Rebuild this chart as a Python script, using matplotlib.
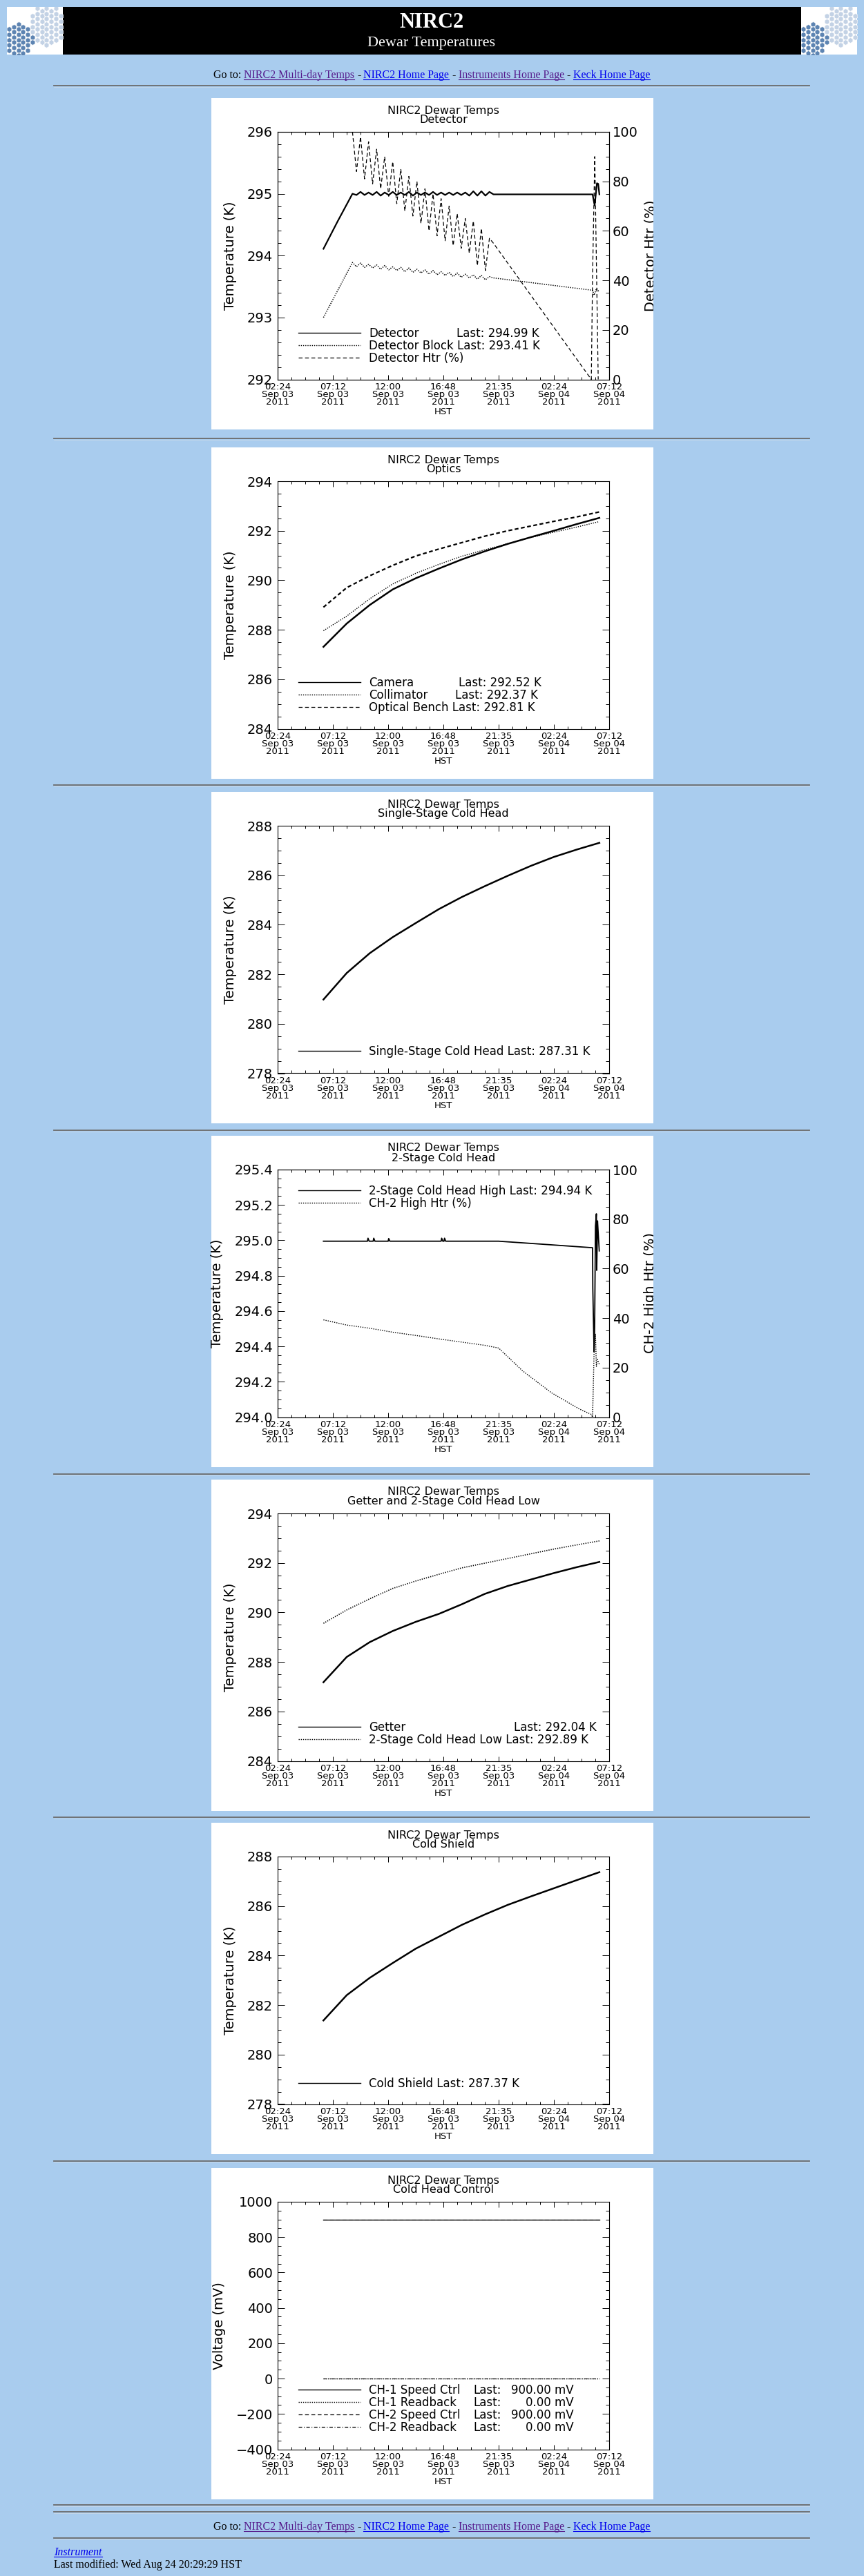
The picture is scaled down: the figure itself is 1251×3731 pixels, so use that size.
import matplotlib
matplotlib.use('Agg')
import matplotlib.pyplot as plt
from matplotlib.patches import Rectangle
from matplotlib.lines import Line2D
from matplotlib.ticker import MultipleLocator, FixedLocator, FormatStrFormatter
from matplotlib.transforms import Bbox, TransformedBbox

plt.rcParams['font.family'] = ['DejaVu Sans']
plt.rcParams['lines.scale_dashes'] = False

# ---------------- data (time axis in hours after 02:24 HST, Sep 03 2011) ----------------
xtick_hours = [0, 4.8, 9.6, 14.4, 19.2, 24.0, 28.8]
xtick_labels = ['02:24\nSep 03\n2011', '07:12\nSep 03\n2011', '12:00\nSep 03\n2011',
                '16:48\nSep 03\n2011', '21:35\nSep 03\n2011', '02:24\nSep 04\n2011',
                '07:12\nSep 04\n2011']

# common sample times for the smooth warm-up curves
hours = [3.98, 6, 8, 10, 12, 14, 16, 18, 20, 22, 24, 26, 27.95]

# detector panel
osc_hours = [6.50, 6.85, 7.20, 7.55, 7.90, 8.25, 8.60, 8.95, 9.30, 9.65, 10.00, 10.35,
             10.70, 11.05, 11.40, 11.75, 12.10, 12.45, 12.80, 13.15, 13.50, 13.85, 14.20, 14.55,
             14.90, 15.25, 15.60, 15.95, 16.30, 16.65, 17.00, 17.35, 17.70, 18.05, 18.40, 18.75]
detector_osc = [295.00, 294.98, 295.03, 294.98, 295.02, 294.98, 295.03, 294.97, 295.02, 294.98,
                295.03, 294.98, 295.02, 294.98, 295.03, 294.97, 295.02, 294.98, 295.02, 294.98,
                295.03, 294.98, 295.02, 294.98, 295.02, 294.98, 295.02, 294.98, 295.02, 294.97,
                295.04, 294.97, 295.04, 294.97, 295.03, 294.99]
block_osc = [293.89, 293.82, 293.88, 293.81, 293.86, 293.80, 293.85, 293.78, 293.84, 293.77,
             293.82, 293.76, 293.81, 293.74, 293.80, 293.73, 293.78, 293.72, 293.77, 293.70,
             293.76, 293.69, 293.74, 293.68, 293.73, 293.66, 293.72, 293.65, 293.70, 293.64,
             293.69, 293.62, 293.68, 293.61, 293.66, 293.64]
htr_osc = [100, 84, 98, 81, 96, 79, 93, 77, 90, 74, 88, 71, 85, 68, 82, 66, 80, 63, 77, 60,
           75, 58, 73, 56, 70, 54, 67, 53, 65, 51, 64, 46, 61, 44, 57, 55]

detector_hours = [3.98, 5.2] + osc_hours + [27.36, 27.54, 27.74, 27.85, 27.95]
detector_temp = [294.11, 294.55] + detector_osc + [294.99, 294.81, 295.17, 295.16, 294.99]
block_hours = [3.98] + osc_hours + [27.36, 27.5, 27.7, 27.95]
block_temp = [293.00] + block_osc + [293.44, 293.36, 293.47, 293.41]
htr_hours = osc_hours + [27.25, 27.36, 27.55, 27.85]
htr_pct = htr_osc + [0, 42, 90, 0]

# optics panel
camera = [287.31, 288.25, 289.00, 289.63, 290.08, 290.47, 290.84, 291.17, 291.47, 291.74, 292.00, 292.27, 292.52]
collimator = [287.96, 288.55, 289.25, 289.85, 290.28, 290.64, 290.97, 291.23, 291.48, 291.73, 291.94, 292.15, 292.37]
optical_bench = [288.91, 289.70, 290.18, 290.60, 290.98, 291.26, 291.52, 291.78, 292.00, 292.19, 292.38, 292.56, 292.76]

# single-stage cold head
single_stage = [280.98, 282.05, 282.85, 283.50, 284.07, 284.63, 285.12, 285.56, 285.98, 286.38, 286.74, 287.04, 287.31]

# 2-stage cold head high + heater
ch2_high_hours = [3.98, 7.80, 7.85, 7.95, 8.30, 8.35, 8.45, 9.60, 9.65, 9.75, 14.20, 14.25, 14.35,
                  14.45, 14.50, 14.60, 19.20, 23.00, 27.36, 27.38, 27.49, 27.54, 27.61, 27.69,
                  27.72, 27.79, 27.86, 27.94]
ch2_high_temp = [294.995, 294.995, 295.012, 294.995, 294.995, 295.012, 294.995, 294.995, 295.010,
                 294.995, 294.995, 295.012, 294.995, 294.995, 295.012, 294.995, 294.995, 294.978,
                 294.958, 294.73, 294.37, 294.51, 295.08, 295.15, 294.83, 295.11, 295.03, 294.94]
ch2_htr_hours = [3.98, 6, 8, 10, 12, 14, 16, 18, 19.2, 21.3, 23.8, 26.2, 27.24, 27.36, 27.49,
                 27.61, 27.69, 27.79, 27.94]
ch2_htr_pct = [39.3, 37.2, 35.9, 34.3, 33.0, 31.6, 30.3, 29.0, 27.9, 18.6, 9.8, 3.3, 1.1, 0.0,
               26.0, 33.5, 20.5, 23.3, 21.4]

# getter and 2-stage cold head low
getter = [287.18, 288.20, 288.80, 289.25, 289.62, 289.94, 290.33, 290.75, 291.07, 291.33, 291.59, 291.83, 292.04]
ch2_low = [289.56, 290.10, 290.55, 290.97, 291.27, 291.54, 291.80, 291.99, 292.18, 292.37, 292.56, 292.73, 292.89]

# cold shield
cold_shield = [281.38, 282.40, 283.10, 283.70, 284.28, 284.76, 285.24, 285.66, 286.05, 286.39, 286.72, 287.05, 287.37]

# cold head control
ctrl_hours = [3.98, 27.95]
ch1_speed = [900, 900]
ch1_readback = [0, 0]
ch2_speed = [900, 900]
ch2_readback = [0, 0]

nav_pieces = [('Go to:', 'black', False), ('NIRC2 Multi-day Temps', '#551a8b', True),
              ('-', 'black', False), ('NIRC2 Home Page', '#0000ee', True),
              ('-', 'black', False), ('Instruments Home Page', '#551a8b', True),
              ('-', 'black', False), ('Keck Home Page', '#0000ee', True)]

# ---------------- page layout ----------------
W, H = 1251, 3731
BG = '#a9ccee'
PX = 306  # left edge of the plot images
SOLID, DOTTED, DASHED, DASHDOT = '-', (0, (1.0, 1.3)), (0, (4.0, 2.6)), (0, (3.6, 1.8, 0.8, 1.8))

fig = plt.figure(figsize=(W / 100, H / 100), dpi=100)
fig.patch.set_facecolor(BG)


def fx(px):
    return px / W


def fy(py):
    return 1 - py / H


def rect(x0, y0, w, h, color, z=-5):
    fig.add_artist(Rectangle((fx(x0), fy(y0 + h)), w / W, h / H, transform=fig.transFigure,
                             facecolor=color, edgecolor='none', zorder=z))


def hline(x0, x1, y, color, lw):
    fig.add_artist(Line2D([fx(x0), fx(x1)], [fy(y), fy(y)], transform=fig.transFigure,
                          color=color, lw=lw))


def hr(y):
    hline(78, 1172, y, '#6b6b6b', 1.3)
    hline(78, 1172, y + 1.5, '#c8d8ea', 0.6)


def logo(x0):
    rect(x0, 10, 81, 69, 'white')
    lax = fig.add_axes([fx(x0), fy(79), 81 / W, 69 / H])
    lax.set_xlim(0, 81)
    lax.set_ylim(69, 0)
    lax.axis('off')
    for col in range(12):
        for row in range(10):
            u = 3 + col * 6.8
            v = 2 + row * 7.6 + (3.8 if col % 2 else 0)
            if ((u - 16) / 22) ** 2 + ((v - 48) / 26) ** 2 < 1:
                c = '#5d84b2'
            elif ((u - 58) / 25) ** 2 + ((v - 26) / 30) ** 2 < 1:
                c = '#c3d2e5'
            else:
                continue
            lax.plot(u, v, marker='h', ms=5.6, color=c, mec='white', mew=0.4)


def nav_line(yc):
    r = fig.canvas.get_renderer()
    probe = fig.text(0, 0, 'x x', fontsize=11.5, family='Liberation Serif')
    probe2 = fig.text(0, 0, 'xx', fontsize=11.5, family='Liberation Serif')
    sp = probe.get_window_extent(r).width - probe2.get_window_extent(r).width
    probe.remove()
    probe2.remove()
    items = []
    for s, c, link in nav_pieces:
        t = fig.text(0, fy(yc + 5), s, color=c, fontsize=11.5, family='Liberation Serif',
                     va='baseline')
        items.append((t, t.get_window_extent(r).width, link, c))
    total = sum(w for _, w, _, _ in items) + sp * (len(items) - 1)
    x = 625 - total / 2
    for t, w, link, c in items:
        t.set_x(fx(x))
        if link:
            hline(x, x + w, yc + 7, c, 0.8)
        x += w + sp


def panel(top, subtitle, ylabel, ylim, major, minor, fmt=None):
    rect(PX, top, 640, 480, 'white')
    ax = fig.add_axes([fx(PX + 96), fy(top + 407.5), 480 / W, 358.5 / H])
    ax.set_xlim(0, 28.8)
    ax.set_ylim(*ylim)
    ax.xaxis.set_major_locator(FixedLocator(xtick_hours))
    ax.set_xticklabels(xtick_labels, linespacing=0.8)
    ax.xaxis.set_minor_locator(MultipleLocator(1.2))
    ax.yaxis.set_major_locator(MultipleLocator(major))
    ax.yaxis.set_minor_locator(MultipleLocator(minor))
    if fmt:
        ax.yaxis.set_major_formatter(FormatStrFormatter(fmt))
    ax.tick_params(which='both', direction='in', top=True, right=True, width=0.7)
    ax.tick_params(axis='x', which='major', length=5.4, labelsize=9.5, pad=3)
    ax.tick_params(axis='x', which='minor', length=2.7)
    ax.tick_params(axis='y', which='major', length=7.2, labelsize=14, pad=5)
    ax.tick_params(axis='y', which='minor', length=3.6)
    for s in ax.spines.values():
        s.set_linewidth(0.8)
    ax.set_ylabel(ylabel, fontsize=14, labelpad=11)
    ax.set_xlabel('HST', fontsize=9.5, labelpad=1)
    fig.text(fx(PX + 336), fy(top + 18), 'NIRC2 Dewar Temps', ha='center', va='center', fontsize=11.5)
    fig.text(fx(PX + 336), fy(top + 32), subtitle, ha='center', va='center', fontsize=11.5)
    return ax


def right_axis(ax, top, label):
    ax.tick_params(axis='y', which='both', right=False)
    ax2 = ax.twinx()
    ax2.set_ylim(0, 100)
    ax2.yaxis.set_major_locator(MultipleLocator(20))
    ax2.yaxis.set_minor_locator(MultipleLocator(5))
    ax2.tick_params(axis='y', which='both', direction='in', width=0.7)
    ax2.tick_params(axis='y', which='major', length=7.2, labelsize=14, pad=3.5)
    ax2.tick_params(axis='y', which='minor', length=3.6)
    t = fig.text(fx(PX + 626), fy(top + 228), label, rotation=90, ha='left', va='center', fontsize=14)
    t.set_clip_box(TransformedBbox(Bbox.from_extents(fx(PX), fy(top + 480), fx(PX + 640), fy(top)),
                                   fig.transFigure))
    t.set_clip_on(True)
    return ax2


def legend(top, y0, rows):
    for i, (style, lw, name, last, last_x) in enumerate(rows):
        y = top + y0 + 18 * i
        fig.add_artist(Line2D([fx(PX + 126), fx(PX + 216)], [fy(y), fy(y)], transform=fig.transFigure,
                              color='black', lw=lw, linestyle=style))
        fig.text(fx(PX + 228), fy(y + 6), name, fontsize=12, va='baseline')
        if last:
            if isinstance(last_x, tuple):
                fig.text(fx(PX + last_x[0]), fy(y + 6), 'Last:', fontsize=12, va='baseline')
                fig.text(fx(PX + last_x[1]), fy(y + 6), last, fontsize=12, va='baseline', ha='right')
            else:
                fig.text(fx(PX + last_x), fy(y + 6), last, fontsize=12, va='baseline')


# header banner
rect(91, 10, 1069, 69, 'black')
logo(10)
logo(1160)
fig.text(fx(625), fy(33), 'NIRC2', color='white', family='Liberation Serif', weight='bold',
         fontsize=22, ha='center', va='center')
fig.text(fx(625), fy(63), 'Dewar Temperatures', color='white', family='Liberation Serif',
         fontsize=16, ha='center', va='center')
nav_line(108)
for y in [124, 635, 1137, 1637, 2135, 2632, 3130, 3628, 3638, 3676]:
    hr(y)

# 1 detector
top = 142
ax = panel(top, 'Detector', 'Temperature (K)', (292, 296), 1, 0.2)
ax.plot(detector_hours, detector_temp, color='black', lw=1.6)
ax.plot(block_hours, block_temp, color='black', lw=1.1, linestyle=DOTTED)
ax2 = right_axis(ax, top, 'Detector Htr (%)')
ax2.plot(htr_hours, htr_pct, color='black', lw=0.9, linestyle=DASHED)
legend(top, 340, [(SOLID, 1.0, 'Detector', 'Last: 294.99 K', 355),
                  (DOTTED, 1.0, 'Detector Block Last: 293.41 K', None, None),
                  (DASHED, 0.9, 'Detector Htr (%)', None, None)])

# 2 optics
top = 648
ax = panel(top, 'Optics', 'Temperature (K)', (284, 294), 2, 0.5)
ax.plot(hours, camera, color='black', lw=1.8)
ax.plot(hours, collimator, color='black', lw=1.0, linestyle=DOTTED)
ax.plot(hours, optical_bench, color='black', lw=1.6, linestyle=DASHED)
legend(top, 340, [(SOLID, 1.0, 'Camera', 'Last: 292.52 K', 358),
                  (DOTTED, 1.0, 'Collimator', 'Last: 292.37 K', 353),
                  (DASHED, 0.9, 'Optical Bench Last: 292.81 K', None, None)])

# 3 single-stage cold head
top = 1147
ax = panel(top, 'Single-Stage Cold Head', 'Temperature (K)', (278, 288), 2, 0.5)
ax.plot(hours, single_stage, color='black', lw=1.8)
legend(top, 375, [(SOLID, 1.0, 'Single-Stage Cold Head Last: 287.31 K', None, None)])

# 4 2-stage cold head
top = 1645
ax = panel(top, '2-Stage Cold Head', 'Temperature (K)', (294.0, 295.4), 0.2, 0.05, '%.1f')
ax.plot(ch2_high_hours, ch2_high_temp, color='black', lw=1.3)
ax2 = right_axis(ax, top, 'CH-2 High Htr (%)')
ax2.plot(ch2_htr_hours, ch2_htr_pct, color='black', lw=1.0, linestyle=DOTTED)
legend(top, 79, [(SOLID, 1.0, '2-Stage Cold Head High Last: 294.94 K', None, None),
                 (DOTTED, 1.0, 'CH-2 High Htr (%)', None, None)])

# 5 getter and 2-stage cold head low
top = 2143
ax = panel(top, 'Getter and 2-Stage Cold Head Low', 'Temperature (K)', (284, 294), 2, 0.5)
ax.plot(hours, getter, color='black', lw=1.8)
ax.plot(hours, ch2_low, color='black', lw=1.2, linestyle=DOTTED)
legend(top, 358, [(SOLID, 1.0, 'Getter', 'Last: 292.04 K', 438),
                  (DOTTED, 1.0, '2-Stage Cold Head Low Last: 292.89 K', None, None)])

# 6 cold shield
top = 2640
ax = panel(top, 'Cold Shield', 'Temperature (K)', (278, 288), 2, 0.5)
ax.plot(hours, cold_shield, color='black', lw=1.8)
legend(top, 377, [(SOLID, 1.0, 'Cold Shield Last: 287.37 K', None, None)])

# 7 cold head control
top = 3140
ax = panel(top, 'Cold Head Control', 'Voltage (mV)', (-400, 1000), 200, 50)
ax.plot(ctrl_hours, ch1_speed, color='black', lw=1.0)
ax.plot(ctrl_hours, ch1_readback, color='black', lw=1.0, linestyle=DOTTED)
ax.plot(ctrl_hours, ch2_speed, color='black', lw=0.8, linestyle=DASHED)
ax.plot(ctrl_hours, ch2_readback, color='black', lw=0.8, linestyle=DASHDOT)
legend(top, 321, [(SOLID, 1.0, 'CH-1 Speed Ctrl', '900.00 mV', (379, 525)),
                  (DOTTED, 1.0, 'CH-1 Readback', '0.00 mV', (379, 525)),
                  (DASHED, 0.9, 'CH-2 Speed Ctrl', '900.00 mV', (379, 525)),
                  (DASHDOT, 0.9, 'CH-2 Readback', '0.00 mV', (379, 525))])

# footer
nav_line(3659)
inst = fig.text(fx(78), fy(3701), 'Instrument', color='#0000ee', family='Liberation Serif',
                style='italic', fontsize=11.5, va='baseline')
w = inst.get_window_extent(fig.canvas.get_renderer()).width
hline(78, 78 + w, 3703, '#0000ee', 0.8)
fig.text(fx(78), fy(3719), 'Last modified: Wed Aug 24 20:29:29 HST', color='black',
         family='Liberation Serif', fontsize=11.5, va='baseline')

fig.savefig('out.png', dpi=100, facecolor=BG)
